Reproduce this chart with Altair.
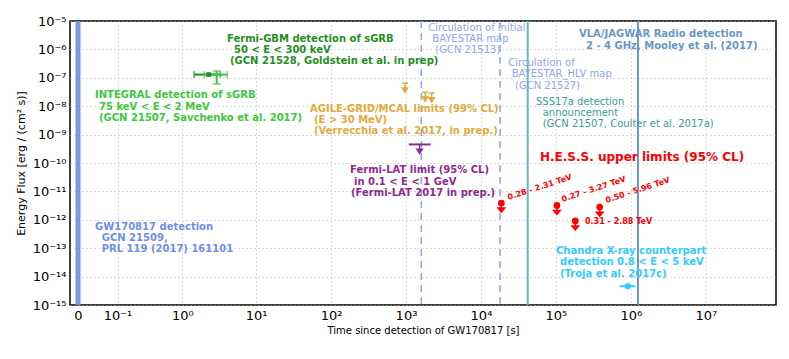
import altair as alt
import pandas as pd

# ---------------- data (time since GW170817 in s, energy flux in erg/cm2/s) ----------------
gw_time = [0.0]
bayestar_times = [1600.0, 1.8e4]
sss17a_time = [4.2e4]
vla_time = [1.24e6]

gbm_time = [2.3]
gbm_tlo = [1.45]
gbm_thi = [3.3]
gbm_flux = [1.3e-7]

integral_time = [2.95]
integral_tlo = [2.0]
integral_thi = [4.1]
integral_flux = [1.3e-7]
integral_flo = [6.0e-8]
integral_fhi = [1.75e-7]

agile_time = [970.0, 1800.0, 2200.0]
agile_flux = [6.4e-8, 3.1e-8, 2.9e-8]

lat_time = [1520.0]
lat_tlo = [1090.0]
lat_thi = [2130.0]
lat_flux = [4.5e-10]

hess_time = [1.87e4, 1.03e5, 1.81e5, 3.83e5]
hess_flux = [3.9e-12, 3.2e-12, 9.1e-13, 2.8e-12]
hess_range = ["0.28 - 2.31 TeV", "0.27 - 3.27 TeV", "0.31 - 2.88 TeV", "0.50 - 5.96 TeV"]

chandra_time = [9.1e5]
chandra_tlo = [7.1e5]
chandra_thi = [1.14e6]
chandra_flux = [4.6e-15]

x_ticks = [0, 0.1, 1, 10, 100, 1e3, 1e4, 1e5, 1e6, 1e7]
y_ticks = [1e-15, 1e-14, 1e-13, 1e-12, 1e-11, 1e-10, 1e-9, 1e-8, 1e-7, 1e-6, 1e-5]

# ---------------- colours ----------------
C_GW = "#6f8fe6"
C_INT = "#3cc83c"
C_GBM = "#1f8f1f"
C_AGILE = "#e0aa3c"
C_LAT = "#8e2a8e"
C_CIRC = "#8fa5ee"
C_SSS_LINE = "#6cb4be"
C_SSS_TXT = "#3a9c9c"
C_VLA = "#6b96c4"
C_HESS = "#ff0000"
C_CHANDRA = "#33ccff"

# ---------------- scales ----------------
xscale = alt.Scale(type="symlog", constant=0.0423, domain=[-0.0118, 8.6e7], nice=False, zero=False)
yscale = alt.Scale(type="log", domain=[1e-15, 1e-5], nice=False)

sup = ["⁰", "⁻¹", "⁻²", "⁻³", "⁻⁴", "⁻⁵", "⁻⁶", "⁻⁷", "⁻⁸", "⁻⁹", "⁻¹⁰", "⁻¹¹", "⁻¹²", "⁻¹³", "⁻¹⁴", "⁻¹⁵"]
ysup = "[" + ",".join("'" + s + "'" for s in sup) + "]"
xsup_list = ["⁻¹", "⁰", "¹", "²", "³", "⁴", "⁵", "⁶", "⁷"]
xsup = "[" + ",".join("'" + s + "'" for s in xsup_list) + "]"

xaxis = alt.Axis(values=x_ticks, labelExpr=f"datum.value == 0 ? '0' : '10' + {xsup}[round(log(datum.value)/LN10)+1]",
                 title="Time since detection of GW170817 [s]", grid=True, gridDash=[1, 3], gridColor="#b8b8b8",
                 ticks=False, domain=False, labelFontSize=13, labelFont="DejaVu Sans", labelColor="black",
                 labelPadding=4, titleFont="DejaVu Sans", titleFontSize=10, titleFontWeight="normal",
                 titleColor="black", titlePadding=3, labelFlush=False, labelOverlap=False)
yaxis = alt.Axis(values=y_ticks, labelExpr=f"'10' + {ysup}[round(-log(datum.value)/LN10)]",
                 title="Energy Flux [erg / (cm² s)]", grid=True, gridDash=[1, 3], gridColor="#b8b8b8",
                 ticks=False, domain=False, labelFontSize=13, labelFont="DejaVu Sans", labelColor="black",
                 labelPadding=4, titleFont="DejaVu Sans", titleFontSize=11, titleFontWeight="normal",
                 titleColor="black", titlePadding=6, labelFlush=False, labelOverlap=False)

# ---------------- layers ----------------
gw = alt.Chart(pd.DataFrame({"t": gw_time})).mark_rule(color=C_GW, strokeWidth=5, opacity=0.9).encode(
    x=alt.X("t:Q", scale=xscale, axis=xaxis),
    y=alt.value(0), y2=alt.value(284))

frame_y = alt.Chart(pd.DataFrame({"f": y_ticks})).mark_point(opacity=0).encode(
    x=alt.value(0),
    y=alt.Y("f:Q", scale=yscale, axis=yaxis))

dashed = alt.Chart(pd.DataFrame({"t": bayestar_times})).mark_rule(color=C_CIRC, strokeWidth=1.5, strokeDash=[7, 5]).encode(
    x=alt.X("t:Q", scale=xscale))
sss = alt.Chart(pd.DataFrame({"t": sss17a_time})).mark_rule(color=C_SSS_LINE, strokeWidth=2).encode(
    x=alt.X("t:Q", scale=xscale))
vla = alt.Chart(pd.DataFrame({"t": vla_time})).mark_rule(color=C_VLA, strokeWidth=2).encode(
    x=alt.X("t:Q", scale=xscale))

gbm_df = pd.DataFrame({"t": gbm_time, "lo": gbm_tlo, "hi": gbm_thi, "f": gbm_flux})
gbm_bar = alt.Chart(gbm_df).mark_rule(color=C_GBM, strokeWidth=2).encode(
    x=alt.X("lo:Q", scale=xscale), x2="hi:Q", y=alt.Y("f:Q", scale=yscale))
gbm_cap = alt.Chart(gbm_df).transform_fold(["lo", "hi"], as_=["k", "tt"]).mark_tick(
    color=C_GBM, orient="vertical", size=7, thickness=1.5).encode(
    x=alt.X("tt:Q", scale=xscale), y=alt.Y("f:Q", scale=yscale))
gbm_pt = alt.Chart(gbm_df).mark_point(shape="square", filled=True, color=C_GBM, size=22, opacity=1).encode(
    x=alt.X("t:Q", scale=xscale), y=alt.Y("f:Q", scale=yscale))

int_df = pd.DataFrame({"t": integral_time, "lo": integral_tlo, "hi": integral_thi, "f": integral_flux,
                       "flo": integral_flo, "fhi": integral_fhi})
int_hbar = alt.Chart(int_df).mark_rule(color=C_INT, strokeWidth=2).encode(
    x=alt.X("lo:Q", scale=xscale), x2="hi:Q", y=alt.Y("f:Q", scale=yscale))
int_vbar = alt.Chart(int_df).mark_rule(color=C_INT, strokeWidth=2).encode(
    x=alt.X("t:Q", scale=xscale), y=alt.Y("flo:Q", scale=yscale), y2="fhi:Q")
int_hcap = alt.Chart(int_df).transform_fold(["lo", "hi"], as_=["k", "tt"]).mark_tick(
    color=C_INT, orient="vertical", size=7, thickness=1.5).encode(
    x=alt.X("tt:Q", scale=xscale), y=alt.Y("f:Q", scale=yscale))
int_vcap = alt.Chart(int_df).transform_fold(["flo", "fhi"], as_=["k", "ff"]).mark_tick(
    color=C_INT, orient="horizontal", size=8, thickness=1.5).encode(
    x=alt.X("t:Q", scale=xscale), y=alt.Y("ff:Q", scale=yscale))

ul_cap_path = "M-1,0H1M0,0V2M-0.85,1.6L0.85,1.6L0,3Z"
ul_path = "M0,0V2M-0.9,1.6L0.9,1.6L0,3Z"
hess_path = "M0,0.6V2.2M-1.1,1.7L1.1,1.7L0,3Z"

agile = alt.Chart(pd.DataFrame({"t": agile_time, "f": agile_flux})).mark_point(
    shape=ul_cap_path, filled=True, fill=C_AGILE, stroke=C_AGILE, strokeWidth=1.5, size=36, opacity=1).encode(
    x=alt.X("t:Q", scale=xscale), y=alt.Y("f:Q", scale=yscale))

lat_df = pd.DataFrame({"t": lat_time, "lo": lat_tlo, "hi": lat_thi, "f": lat_flux})
lat_bar = alt.Chart(lat_df).mark_rule(color=C_LAT, strokeWidth=2).encode(
    x=alt.X("lo:Q", scale=xscale), x2="hi:Q", y=alt.Y("f:Q", scale=yscale))
lat_arrow = alt.Chart(lat_df).mark_point(
    shape=ul_path, filled=True, fill=C_LAT, stroke=C_LAT, strokeWidth=1.5, size=36, opacity=1).encode(
    x=alt.X("t:Q", scale=xscale), y=alt.Y("f:Q", scale=yscale))

hess_df = pd.DataFrame({"t": hess_time, "f": hess_flux})
hess_arrow = alt.Chart(hess_df).mark_point(
    shape=hess_path, filled=True, fill=C_HESS, stroke=C_HESS, strokeWidth=1.5, size=36, opacity=1).encode(
    x=alt.X("t:Q", scale=xscale), y=alt.Y("f:Q", scale=yscale))
hess_pt = alt.Chart(hess_df).mark_point(shape="circle", filled=True, color=C_HESS, size=45, opacity=1).encode(
    x=alt.X("t:Q", scale=xscale), y=alt.Y("f:Q", scale=yscale))

ch_df = pd.DataFrame({"t": chandra_time, "lo": chandra_tlo, "hi": chandra_thi, "f": chandra_flux})
ch_bar = alt.Chart(ch_df).mark_rule(color=C_CHANDRA, strokeWidth=2).encode(
    x=alt.X("lo:Q", scale=xscale), x2="hi:Q", y=alt.Y("f:Q", scale=yscale))
ch_pt = alt.Chart(ch_df).mark_point(shape="circle", filled=True, color=C_CHANDRA, size=40, opacity=1).encode(
    x=alt.X("t:Q", scale=xscale), y=alt.Y("f:Q", scale=yscale))

# ---------------- annotations (page pixel layout) ----------------
B, N = "bold", "normal"
ann_rows = [
    (227, 38.5, "Fermi-GBM detection of sGRB", C_GBM, 10, B, 0),
    (234, 50, "50 < E < 300 keV", C_GBM, 10, B, 0),
    (230, 61, "(GCN 21528, Goldstein et al. in prep)", C_GBM, 10, B, 0),
    (95, 95, "INTEGRAL detection of sGRB", C_INT, 10, B, 0),
    (99, 106.5, "75 keV < E < 2 MeV", C_INT, 10, B, 0),
    (99, 117.5, "(GCN 21507, Savchenko et al. 2017)", C_INT, 10, B, 0),
    (310, 108.5, "AGILE-GRID/MCAL limits (99% CL)", C_AGILE, 10, B, 0),
    (314, 119.5, "(E > 30 MeV)", C_AGILE, 10, B, 0),
    (314, 131, "(Verrecchia et al. 2017, in prep.)", C_AGILE, 10, B, 0),
    (350, 170, "Fermi-LAT limit (95% CL)", C_LAT, 10, B, 0),
    (354, 181.5, "in 0.1 < E < 1 GeV", C_LAT, 10, B, 0),
    (351, 192.5, "(Fermi-LAT 2017 in prep.)", C_LAT, 10, B, 0),
    (95, 226.7, "GW170817 detection", C_GW, 10, B, 0),
    (101.7, 238.3, "GCN 21509,", C_GW, 10, B, 0),
    (101.7, 249.3, "PRL 119 (2017) 161101", C_GW, 10, B, 0),
    (579, 34.3, "VLA/JAGWAR Radio detection", C_VLA, 10, B, 0),
    (586, 45.7, "2 - 4 GHz, Mooley et al. (2017)", C_VLA, 10, B, 0),
    (540, 156.7, "H.E.S.S. upper limits (95% CL)", C_HESS, 12, B, 0),
    (508, 198, hess_range[0], C_HESS, 8, B, 342),
    (562, 200, hess_range[1], C_HESS, 8, B, 342),
    (585, 222, hess_range[2], C_HESS, 8, B, 0),
    (606, 201, hess_range[3], C_HESS, 8, B, 342),
    (556, 250.7, "Chandra X-ray counterpart", C_CHANDRA, 10, B, 0),
    (560, 262.3, "detection 0.8 < E < 5 keV", C_CHANDRA, 10, B, 0),
    (560, 273.7, "(Troja et al. 2017c)", C_CHANDRA, 10, B, 0),
    (428.3, 28.3, "Circulation of initial", C_CIRC, 10, N, 0),
    (432.3, 39.3, "BAYESTAR map", C_CIRC, 10, N, 0),
    (435.3, 50, "(GCN 21513)", C_CIRC, 10, N, 0),
    (508.3, 62.7, "Circulation of", C_CIRC, 10, N, 0),
    (511.7, 74, "BAYESTAR_HLV map", C_CIRC, 10, N, 0),
    (515, 85.7, "(GCN 21527)", C_CIRC, 10, N, 0),
    (536, 101.7, "SSS17a detection", C_SSS_TXT, 10, N, 0),
    (542.7, 113.3, "announcement", C_SSS_TXT, 10, N, 0),
    (542.7, 124.3, "(GCN 21507, Coulter et al. 2017a)", C_SSS_TXT, 10, N, 0),
]
ann = pd.DataFrame(ann_rows, columns=["px", "py", "text", "color", "size", "weight", "angle"])
ann["xr"] = ann["px"] - 70
ann["yr"] = ann["py"] - 21


def text_layer(weight):
    return alt.Chart(ann[ann["weight"] == weight]).mark_text(
        align="left", baseline="middle", fontWeight=weight, font="DejaVu Sans").encode(
        x=alt.X("xr:Q", scale=None, axis=None),
        y=alt.Y("yr:Q", scale=None, axis=None),
        text="text:N",
        color=alt.Color("color:N", scale=None, legend=None),
        size=alt.Size("size:Q", scale=None, legend=None),
        angle=alt.Angle("angle:Q", scale=None))


chart = alt.layer(
    gw, frame_y, dashed, sss, vla,
    gbm_bar, gbm_cap, int_hbar, int_vbar, int_hcap, int_vcap, gbm_pt,
    agile, lat_bar, lat_arrow, hess_arrow, hess_pt, ch_bar, ch_pt,
    text_layer(B), text_layer(N),
).properties(
    width=706, height=284,
    background="white",
    autosize=alt.AutoSizeParams(type="none"),
    padding={"left": 62, "top": 13, "right": 5, "bottom": 46},
).configure_view(stroke="black", strokeWidth=1.5)

chart.save("out.html", embed_options={"renderer": "svg", "actions": False})
